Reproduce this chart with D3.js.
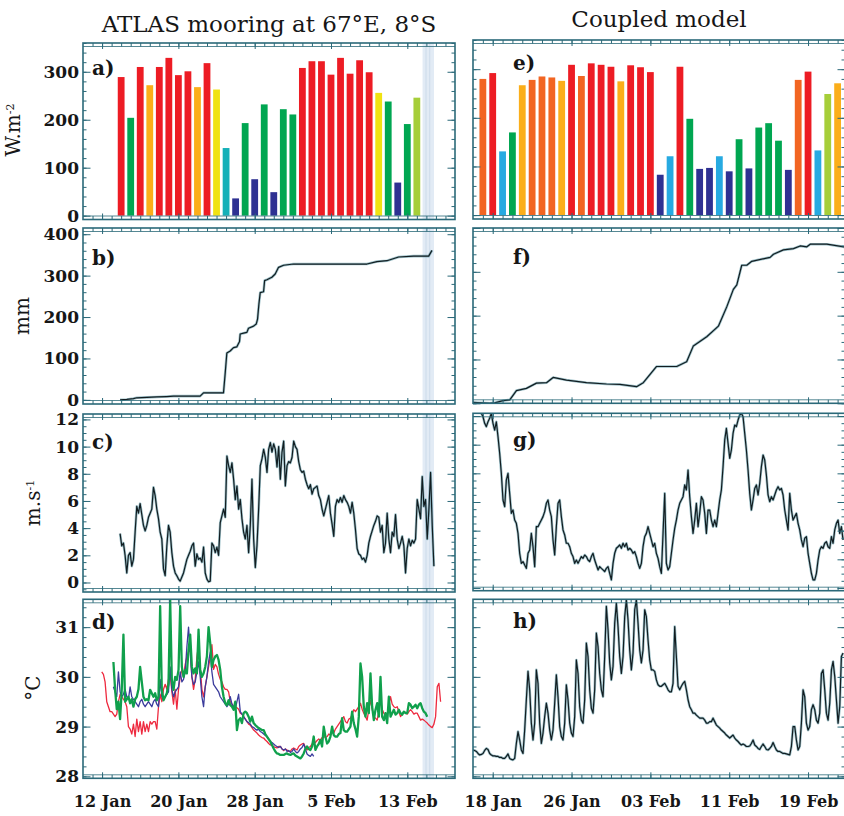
<!DOCTYPE html>
<html>
<head>
<meta charset="utf-8">
<script src="https://cdn.jsdelivr.net/npm/d3@7"></script>
<style>
  body { margin: 0; background: #fff; }
  svg text { font-family: "DejaVu Serif", serif; fill: #161616; }
</style>
</head>
<body>
<svg id="chart" width="844" height="816"></svg>
<script>
// days are counted from 1 Jan (1 = 1 Jan, 32 = 1 Feb)
const day = d => new Date(Date.UTC(2007, 0, 1) + (d - 1) * 864e5);

// ---- data ----
// daily net heat flux, W.m-2
const fluxObsStart = 14;   // 14 Jan
const fluxObs = [289, 204, 310, 272, 310, 329, 293, 301, 268, 318, 263, 141, 36, 193, 76, 232,
  49, 222, 211, 308, 322, 322, 294, 329, 296, 324, 299, 256, 238, 69, 191, 246];
const fluxModStart = 17;   // 17 Jan
const fluxMod = [280, 292, 131, 170, 267, 278, 285, 283, 276, 309, 286, 312, 309, 305, 275, 308,
  304, 294, 83, 121, 305, 198, 95, 97, 121, 90, 156, 96, 180, 189, 153, 93, 278, 295, 133, 249, 271];
const fluxBreaks = [100, 137, 150, 245, 255, 266, 277, 288];
const fluxColors = ["#2e3192", "#27aae1", "#14b0b8", "#00a651", "#a6ce39", "#f0e212", "#fbae1a", "#f26522", "#ed1c24"];

// cumulative rain, mm  [day, value]
const rainObs = [[13.89, 0], [14.59, 1], [15.29, 3], [15.64, 5], [16.69, 6], [17.74, 7], [18.79, 8],
  [19.49, 9], [22.28, 9], [22.63, 17], [24.73, 17], [24.91, 65], [25.08, 113], [25.43, 118],
  [25.78, 126], [26.13, 128], [26.41, 141], [26.48, 159], [26.83, 161], [27.18, 163], [27.35, 173],
  [27.88, 178], [28.16, 183], [28.30, 195], [28.44, 231], [28.58, 259], [28.93, 261], [29.04, 288],
  [29.28, 290], [29.80, 296], [30.15, 304], [30.50, 320], [31.03, 325], [32.08, 328], [39.77, 328],
  [40.82, 334], [41.87, 336], [43.09, 345], [44.67, 347], [46.24, 347], [46.59, 361]];
const rainMod = [[16.0, 2], [17.7, 0], [18.2, 1], [19.05, 6], [19.73, 8], [20.41, 29], [21.42, 34],
  [22.44, 46], [23.46, 47], [24.13, 59], [25.49, 53], [27.52, 47], [29.55, 44], [30.91, 43],
  [32.60, 38], [33.28, 47], [34.63, 84], [36.67, 84], [37.68, 95], [38.36, 131], [39.72, 152],
  [40.90, 176], [41.75, 220], [42.42, 260], [42.77, 270], [43.27, 315], [43.78, 315], [44.29, 324],
  [46.15, 333], [46.49, 340], [47.50, 350], [48.52, 353], [49.20, 359], [49.88, 357], [50.22, 363],
  [51.91, 363], [53.67, 357]];

// wind speed, m/s, regular samples
const obsStepHours = 4.2, modStepHours = 4.06;
const windObsStart = 13.889;
const windObs = [3.6, 2.7, 2.9, 2.0, 0.7, 2.0, 2.2, 1.2, 1.7, 3.7,
  5.6, 5.1, 5.8, 5.0, 4.2, 3.8, 4.2, 4.8, 5.1, 5.4,
  7.0, 6.4, 5.4, 4.7, 3.7, 3.2, 1.0, 0.5, 2.7, 4.2,
  3.7, 2.2, 1.2, 0.7, 0.5, 0.25, 0.1, 0.4, 0.7, 1.2,
  1.7, 2.0, 2.3, 2.7, 2.9, 1.2, 2.1, 1.7, 1.8, 1.5,
  2.6, 0.7, 0.25, 0.05, 0.1, 2.9, 2.7, 2.2, 2.6, 2.0,
  4.4, 4.9, 5.4, 4.8, 9.3, 8.6, 8.1, 8.8, 7.6, 6.1,
  7.1, 5.4, 6.1, 4.7, 3.7, 3.2, 4.2, 2.2, 4.2, 7.6,
  3.2, 1.1, 2.7, 5.4, 8.6, 9.1, 9.8, 9.2, 8.1, 9.8,
  10.3, 9.6, 10.2, 9.8, 8.5, 10.0, 7.6, 9.6, 10.4, 7.1,
  8.6, 8.9, 8.8, 9.2, 10.4, 10.0, 9.8, 8.9, 8.3, 8.1,
  8.2, 7.6, 7.2, 6.9, 7.2, 6.5, 6.9, 7.0, 7.1, 6.4,
  6.1, 5.4, 4.9, 5.4, 5.9, 6.4, 5.1, 4.3, 3.4, 5.6,
  6.1, 5.9, 6.25, 5.9, 6.4, 6.1, 5.9, 5.6, 5.1, 5.9,
  5.1, 3.9, 2.5, 2.1, 2.0, 1.7, 1.8, 1.5, 2.0, 2.9,
  3.4, 3.8, 4.2, 4.5, 4.9, 4.8, 3.7, 4.2, 2.2, 2.9,
  5.1, 3.2, 2.2, 3.7, 3.4, 5.0, 3.2, 2.5, 2.9, 3.4,
  2.7, 0.7, 2.5, 3.2, 2.7, 3.1, 2.9, 3.2, 6.1, 5.4,
  4.7, 7.8, 5.6, 6.1, 3.2, 5.4, 8.1, 4.2, 1.2];
const windModStart = 16.0;
const windMod = [12.42, 12.53, 12.65, 12.53, 12.3, 12.19, 11.95, 11.49, 11.26, 11.6,
  11.84, 12.19, 11.49, 11.02, 11.6, 10.56, 9.4, 8.0, 6.14, 5.67,
  7.53, 8.0, 6.6, 5.21, 5.44, 4.74, 4.51, 3.81, 2.42, 1.72,
  1.84, 1.6, 1.37, 2.42, 2.65, 3.81, 2.88, 1.49, 4.28, 4.28,
  4.51, 4.74, 4.98, 5.33, 5.91, 6.14, 5.44, 4.98, 3.35, 2.3,
  4.28, 5.91, 6.14, 4.98, 4.05, 3.7, 3.12, 3.12, 2.88, 2.42,
  2.19, 1.72, 1.95, 1.72, 1.95, 2.19, 2.07, 2.3, 2.19, 1.95,
  1.84, 2.19, 2.42, 1.95, 1.6, 1.26, 1.49, 1.37, 1.26, 1.14,
  1.37, 1.49, 1.02, 0.56, 1.72, 2.42, 2.77, 2.88, 3.0, 2.77,
  3.12, 2.88, 3.12, 2.65, 2.77, 2.65, 2.42, 2.53, 2.19, 1.72,
  1.37, 1.72, 2.88, 3.58, 3.81, 4.28, 3.81, 3.35, 2.88, 3.12,
  2.42, 2.07, 1.49, 1.02, 3.81, 6.6, 1.72, 1.26, 1.49, 2.42,
  3.35, 4.16, 4.74, 5.44, 5.91, 6.14, 6.37, 7.19, 6.84, 8.23,
  6.37, 4.98, 3.81, 4.74, 5.91, 4.28, 5.21, 6.37, 6.14, 5.21,
  3.81, 5.44, 5.44, 4.74, 4.28, 4.74, 4.28, 5.21, 6.14, 6.84,
  8.47, 10.33, 11.14, 10.09, 9.05, 9.63, 10.79, 11.37, 11.26, 11.72,
  12.07, 12.19, 11.95, 10.79, 9.63, 8.23, 6.6, 5.44, 6.14, 6.95,
  7.19, 6.49, 7.3, 8.47, 9.28, 8.93, 7.88, 6.49, 6.02, 6.37,
  6.14, 6.49, 6.84, 7.07, 6.84, 6.95, 6.49, 5.44, 4.74, 4.05,
  6.6, 5.44, 4.74, 4.98, 5.21, 4.51, 4.05, 3.35, 2.88, 3.47,
  3.58, 2.42, 1.72, 1.02, 0.56, 0.56, 1.02, 1.95, 2.65, 2.88,
  2.77, 3.12, 3.23, 2.88, 2.77, 3.58, 3.12, 4.05, 4.51, 4.74,
  3.81, 4.28, 3.35];

// sea surface temperature, degC
const sstRedStart = 11.965;
const sstRed = [30.1, 30.05, 29.9, 29.5, 29.4, 29.3, 29.3, 29.25, 29.2, 29.25,
  29.5, 29.65, 29.6, 29.55, 29.5, 29.4, 29.0, 28.95, 28.85, 29.05,
  28.8, 29.15, 28.9, 29.1, 28.85, 29.1, 28.9, 29.05, 28.9, 29.1,
  29.05, 29.1, 29.1, 28.95, 29.4, 29.65, 29.5, 29.75, 29.85, 29.75,
  29.95, 30.05, 29.7, 29.45, 29.75, 29.35, 29.75, 30.0, 30.15, 30.0,
  30.25, 30.4, 30.5, 30.55, 30.0, 29.75, 29.95, 30.4, 30.65, 30.2,
  29.75, 29.6, 29.8, 30.0, 30.2, 30.4, 30.65, 30.15, 30.25, 30.2,
  30.05, 29.95, 29.9, 29.8, 29.75, 29.75, 29.7, 29.5, 29.45, 29.4,
  29.4, 29.38, 29.35, 29.27, 29.25, 29.2, 29.15, 29.1, 29.05, 29.03,
  28.98, 28.93, 28.9, 28.87, 28.83, 28.8, 28.78, 28.77, 28.73, 28.7,
  28.66, 28.63, 28.62, 28.6, 28.58, 28.57, 28.6, 28.6, 28.55, 28.52,
  28.55, 28.53, 28.5, 28.5, 28.55, 28.57, 28.55, 28.53, 28.6, 28.63,
  28.65, 28.66, 28.58, 28.53, 28.58, 28.6, 28.65, 28.7, 28.68, 28.72,
  28.75, 28.73, 28.78, 28.8, 28.78, 28.8, 28.85, 28.83, 28.88, 28.87,
  28.95, 29.0, 29.05, 29.1, 29.15, 29.2, 29.1, 29.07, 29.15, 29.17,
  29.25, 29.34, 29.3, 29.35, 29.4, 29.47, 29.35, 29.27, 29.2, 29.13,
  29.35, 29.53, 29.35, 29.2, 29.17, 29.13, 29.3, 29.53, 29.35, 29.27,
  29.22, 29.2, 29.45, 29.6, 29.45, 29.4, 29.38, 29.4, 29.3, 29.2,
  29.25, 29.3, 29.28, 29.25, 29.3, 29.34, 29.3, 29.25, 29.27, 29.27,
  29.2, 29.13, 29.15, 29.13, 29.1, 29.07, 29.03, 29.0, 28.98, 29.05,
  29.2, 29.8, 29.87, 29.5];
const sstBlueStart = 13.189;
const sstBlue = [29.8, 29.7, 29.6, 30.1, 29.7, 29.6, 29.65, 29.75, 29.6, 29.55,
  29.8, 29.6, 29.55, 29.5, 29.45, 29.4, 29.5, 29.55, 29.45, 29.4,
  29.45, 29.5, 29.45, 29.4, 29.5, 29.55, 29.45, 29.4, 29.95, 29.6,
  29.55, 29.6, 29.65, 29.7, 30.2, 29.75, 29.6, 29.7, 29.75, 29.8,
  30.1, 29.9, 29.95, 30.1, 30.6, 31.0, 30.5, 30.0, 29.85, 29.9,
  30.1, 30.3, 30.0, 29.6, 29.4, 29.8, 30.0, 30.3, 30.5, 30.1,
  29.85, 29.8, 29.75, 29.7, 29.6, 29.55, 29.5, 29.45, 29.4, 29.45,
  29.6, 29.45, 29.4, 29.35, 29.5, 29.65, 29.3, 29.25, 29.2, 29.15,
  29.1, 29.08, 29.05, 29.0, 28.98, 28.95, 28.93, 28.95, 28.9, 28.88,
  28.85, 28.82, 28.8, 28.75, 28.7, 28.68, 28.65, 28.62, 28.6, 28.58,
  28.6, 28.55, 28.53, 28.55, 28.5, 28.52, 28.48, 28.5, 28.55, 28.5,
  28.47, 28.5, 28.55, 28.58, 28.65, 28.55, 28.45, 28.42, 28.4, 28.45,
  28.4];
const sstGreenStart = 13.189;
const sstGreen = [30.3, 29.75, 29.35, 29.5, 29.15, 29.75, 30.85, 29.5, 29.55, 29.6,
  29.47, 29.55, 29.4, 29.55, 29.6, 29.75, 30.2, 29.9, 29.6, 29.53,
  29.55, 29.53, 29.74, 29.67, 29.6, 29.67, 29.53, 29.6, 31.42, 29.74,
  29.53, 29.6, 29.67, 29.87, 31.55, 29.94, 29.74, 30.0, 29.94, 30.14,
  31.42, 30.2, 30.0, 30.14, 30.07, 30.54, 30.85, 30.2, 30.07, 30.17,
  30.07, 30.95, 30.14, 30.0, 30.07, 30.2, 30.41, 31.0, 30.68, 30.2,
  30.34, 30.41, 30.44, 30.34, 30.14, 29.8, 29.6, 29.47, 29.43, 29.53,
  29.43, 29.4, 29.34, 29.5, 28.93, 29.13, 29.17, 29.07, 29.27, 29.3,
  29.27, 29.2, 29.1, 29.2, 29.07, 29.03, 29.0, 28.97, 28.95, 28.93,
  28.93, 28.85, 28.8, 28.75, 28.7, 28.63, 28.56, 28.5, 28.46, 28.45,
  28.43, 28.43, 28.43, 28.45, 28.46, 28.44, 28.43, 28.45, 28.46, 28.42,
  28.4, 28.38, 28.36, 28.4, 28.46, 28.55, 28.6, 28.55, 28.53, 28.6,
  28.8, 28.53, 28.6, 28.65, 28.73, 28.6, 29.0, 28.8, 28.66, 28.7,
  28.8, 29.0, 28.83, 28.8, 28.8, 28.85, 28.87, 29.17, 28.93, 28.9,
  28.9, 28.95, 29.0, 29.3, 29.07, 28.95, 28.8, 29.2, 30.27, 30.0,
  29.4, 29.2, 29.47, 29.27, 30.07, 29.4, 29.13, 29.34, 29.47, 29.2,
  30.0, 29.2, 29.13, 29.27, 29.07, 29.6, 29.2, 29.27, 29.34, 29.24,
  29.27, 29.34, 29.27, 29.24, 29.3, 29.27, 29.27, 29.47, 29.44, 29.37,
  29.4, 29.44, 29.37, 29.44, 29.47, 29.37, 29.3, 29.27, 29.2];
const sstModStart = 16.0;
const sstMod = [28.53, 28.52, 28.5, 28.46, 28.43, 28.44, 28.46, 28.52, 28.56, 28.54,
  28.46, 28.43, 28.41, 28.41, 28.4, 28.4, 28.38, 28.38, 28.36, 28.36,
  28.4, 28.45, 28.36, 28.34, 28.33, 28.36, 28.66, 28.9, 28.73, 28.53,
  28.46, 28.93, 29.54, 30.11, 29.74, 29.07, 28.73, 29.07, 30.14, 29.87,
  29.07, 28.66, 28.87, 29.2, 29.47, 29.27, 28.93, 28.73, 28.93, 29.47,
  30.04, 29.6, 29.0, 28.8, 28.73, 29.07, 29.84, 29.54, 29.07, 28.87,
  28.8, 29.2, 30.34, 30.07, 29.4, 29.13, 29.07, 29.54, 30.68, 30.41,
  29.74, 29.37, 29.27, 29.74, 30.88, 30.61, 30.07, 29.74, 29.6, 30.41,
  31.42, 30.95, 30.28, 29.94, 30.21, 31.08, 31.48, 31.01, 30.41, 30.07,
  30.41, 31.21, 31.55, 31.15, 30.54, 30.14, 30.48, 31.35, 31.55, 31.08,
  30.54, 30.28, 30.54, 31.35, 31.21, 30.74, 30.34, 30.14, 30.14, 30.11,
  29.94, 29.84, 29.81, 29.81, 29.84, 29.87, 29.81, 29.74, 29.7, 29.7,
  29.87, 31.01, 30.41, 29.81, 29.74, 29.81, 29.87, 29.91, 29.74, 29.54,
  29.4, 29.34, 29.27, 29.27, 29.23, 29.2, 29.17, 29.17, 29.17, 29.13,
  29.07, 29.07, 29.1, 29.1, 29.17, 29.1, 29.03, 29.0, 28.97, 28.93,
  28.9, 28.87, 28.83, 28.8, 28.77, 28.8, 28.83, 28.77, 28.73, 28.7,
  28.66, 28.63, 28.65, 28.63, 28.6, 28.6, 28.61, 28.66, 28.73, 28.63,
  28.6, 28.56, 28.54, 28.6, 28.65, 28.6, 28.54, 28.53, 28.56, 28.6,
  28.68, 28.6, 28.53, 28.5, 28.5, 28.48, 28.46, 28.46, 28.45, 28.44,
  28.43, 28.6, 29.0, 29.0, 28.73, 28.53, 28.6, 29.07, 29.74, 29.6,
  29.07, 28.93, 29.0, 29.34, 29.44, 29.34, 29.13, 29.07, 29.27, 30.07,
  30.14, 29.74, 29.27, 29.13, 29.47, 30.14, 30.31, 30.01, 29.54, 29.07,
  29.4, 30.41, 30.48];

// shaded gap in the mooring record
const bandDays = [45.6, 46.8];

// axis ticks
const fluxTicks = [0, 100, 200, 300];
const rainTicks = [0, 100, 200, 300, 400];
const windTicks = [0, 2, 4, 6, 8, 10, 12];
const sstTicks = [28, 29, 30, 31];
const obsDateTicks = [12, 20, 28, 36, 44];   // 12 Jan ... 13 Feb
const modDateTicks = [18, 26, 34, 42, 50];   // 18 Jan ... 19 Feb

// ---- drawing ----
const series = (start, stepHours, values) => values.map((v, i) => [day(start + i * stepHours / 24), v]);
const pairs = list => list.map(([d, v]) => [day(d), v]);
const fluxColor = d3.scaleThreshold().domain(fluxBreaks).range(fluxColors);

const frameColor = "#2b6979";
const svg = d3.select("#chart");
const defs = svg.append("defs");

const xObs = d3.scaleUtc().domain([day(10), day(49)]).range([83, 455]);
const xMod = d3.scaleUtc().domain([day(16), day(53.75)]).range([473, 845]);

function bars(start, values) {
  return (g, x, y) => {
    g.selectAll("rect.bar").data(values).join("rect")
      .attr("class", "bar")
      .attr("x", (v, i) => x(day(start + i)) - 3.4)
      .attr("width", 6.8)
      .attr("y", v => y(v))
      .attr("height", v => y(0) - y(v))
      .attr("fill", v => fluxColor(v));
  };
}

function darkLine(data) {
  return (g, x, y) => {
    const line = d3.line().x(d => x(d[0])).y(d => y(d[1]));
    g.append("path").datum(data).attr("fill", "none").attr("stroke", "#4f8e9c")
      .attr("stroke-opacity", 0.55).attr("stroke-width", 2.6).attr("stroke-linejoin", "round").attr("d", line);
    g.append("path").datum(data).attr("fill", "none").attr("stroke", "#121d21")
      .attr("stroke-width", 1.2).attr("stroke-linejoin", "round").attr("d", line);
  };
}

function sstLines(g, x, y) {
  const line = d3.line().x(d => x(d[0])).y(d => y(d[1]));
  const lines = [
    [series(sstRedStart, obsStepHours, sstRed), "#ee2a3f", 1.3],
    [series(sstBlueStart, obsStepHours, sstBlue), "#3b3c9c", 1.3],
    [series(sstGreenStart, obsStepHours, sstGreen), "#10a04c", 2.3]
  ];
  lines.forEach(([data, color, w]) => {
    g.append("path").datum(data).attr("fill", "none").attr("stroke", color)
      .attr("stroke-width", w).attr("stroke-linejoin", "round").attr("d", line);
  });
}

const panels = [
  {id: "a", x: xObs, top: 43, bottom: 219.5, dom: [-8, 360], ticks: fluxTicks, minor: 20, labels: true,
    letter: [92, 75], draw: bars(fluxObsStart, fluxObs)},
  {id: "b", x: xObs, top: 228, bottom: 404, dom: [-10, 415], ticks: rainTicks, minor: 20, labels: true,
    letter: [92, 265], draw: darkLine(pairs(rainObs))},
  {id: "c", x: xObs, top: 414, bottom: 592, dom: [-0.7, 12.4], ticks: windTicks, minor: 0.5, labels: true,
    letter: [92, 449], draw: darkLine(series(windObsStart, obsStepHours, windObs))},
  {id: "d", x: xObs, top: 599.3, bottom: 778.3, dom: [27.96, 31.56], ticks: sstTicks, minor: 0.2, labels: true,
    letter: [92, 629], draw: sstLines, dates: obsDateTicks, fmt: d3.utcFormat("%-d %b")},
  {id: "e", x: xMod, top: 40, bottom: 219, dom: [-8, 360], ticks: fluxTicks, minor: 20,
    letter: [513, 70], draw: bars(fluxModStart, fluxMod)},
  {id: "f", x: xMod, top: 228, bottom: 403.3, dom: [0, 400], ticks: rainTicks, minor: 20,
    letter: [513, 264], draw: darkLine(pairs(rainMod))},
  {id: "g", x: xMod, top: 413.3, bottom: 590.7, dom: [-0.19, 12.19], ticks: windTicks, minor: 0.5,
    letter: [513, 447], draw: darkLine(series(windModStart, modStepHours, windMod))},
  {id: "h", x: xMod, top: 599.3, bottom: 778.3, dom: [27.96, 31.56], ticks: sstTicks, minor: 0.2,
    letter: [513, 628], draw: darkLine(series(sstModStart, modStepHours, sstMod)),
    dates: modDateTicks, fmt: d3.utcFormat("%d %b")}
];

const noDomain = a => a.select(".domain").remove();

panels.forEach(p => {
  const [l, r] = p.x.range();
  const y = d3.scaleLinear().domain(p.dom).range([p.bottom, p.top]);

  defs.append("clipPath").attr("id", "clip-" + p.id).append("rect")
    .attr("x", l).attr("y", p.top).attr("width", r - l).attr("height", p.bottom - p.top);
  const plot = svg.append("g").attr("clip-path", `url(#clip-${p.id})`);

  if (p.x === xObs) {
    const b0 = p.x(day(bandDays[0])), b1 = p.x(day(bandDays[1]));
    plot.append("rect").attr("x", b0).attr("y", p.top).attr("width", b1 - b0)
      .attr("height", p.bottom - p.top).attr("fill", "#e2ebf5");
    [0.3, 0.62].forEach(f => plot.append("line")
      .attr("x1", b0 + f * (b1 - b0)).attr("x2", b0 + f * (b1 - b0))
      .attr("y1", p.top).attr("y2", p.bottom).attr("stroke", "#d0deec").attr("stroke-width", 1.2));
  }
  p.draw(plot, p.x, y);

  const ax = svg.append("g").attr("color", frameColor);
  const [d0, d1] = p.x.domain();
  const days = d3.utcDay.range(d0, d1).slice(1);
  const dateMajors = (p.x === xObs ? obsDateTicks : modDateTicks).map(day);
  const minors = d3.range(Math.ceil(p.dom[0] / p.minor - 1e-9), Math.floor(p.dom[1] / p.minor + 1e-9) + 1)
    .map(k => +(k * p.minor).toFixed(3));
  const blank = () => "";

  // time ticks, pointing into the panel
  ax.append("g").attr("transform", `translate(0,${p.bottom})`)
    .call(d3.axisTop(p.x).tickValues(days).tickSize(3.5).tickFormat(blank)).call(noDomain);
  ax.append("g").attr("transform", `translate(0,${p.top})`)
    .call(d3.axisBottom(p.x).tickValues(days).tickSize(3.5).tickFormat(blank)).call(noDomain);
  ax.append("g").attr("transform", `translate(0,${p.bottom})`)
    .call(d3.axisTop(p.x).tickValues(dateMajors).tickSize(6).tickFormat(blank)).call(noDomain);
  ax.append("g").attr("transform", `translate(0,${p.top})`)
    .call(d3.axisBottom(p.x).tickValues(dateMajors).tickSize(6).tickFormat(blank)).call(noDomain);

  // value ticks on both sides
  ax.append("g").attr("transform", `translate(${l},0)`)
    .call(d3.axisRight(y).tickValues(minors).tickSize(3.5).tickFormat(blank)).call(noDomain);
  ax.append("g").attr("transform", `translate(${l},0)`)
    .call(d3.axisRight(y).tickValues(p.ticks).tickSize(7.5).tickFormat(blank)).call(noDomain);
  ax.append("g").attr("transform", `translate(${r},0)`)
    .call(d3.axisLeft(y).tickValues(minors).tickSize(3.5).tickFormat(blank)).call(noDomain);
  ax.append("g").attr("transform", `translate(${r},0)`)
    .call(d3.axisLeft(y).tickValues(p.ticks).tickSize(7.5).tickFormat(blank)).call(noDomain);

  if (p.labels) {
    ax.append("g").attr("transform", `translate(${l},0)`)
      .call(d3.axisLeft(y).tickValues(p.ticks).tickSize(0).tickPadding(4).tickFormat(d3.format("d")))
      .call(noDomain)
      .selectAll("text").style("font-size", "17px").style("font-weight", "bold");
  }
  if (p.dates) {
    ax.append("g").attr("transform", `translate(0,${p.bottom})`)
      .call(d3.axisBottom(p.x).tickValues(p.dates.map(day)).tickSize(0).tickPadding(17).tickFormat(p.fmt))
      .call(noDomain)
      .selectAll("text").style("font-size", "16px").style("font-weight", "bold");
  }

  // double edge on top and bottom, then the frame
  [p.top + 3.5, p.bottom - 3.5].forEach(yy => ax.append("line")
    .attr("x1", l).attr("x2", r).attr("y1", yy).attr("y2", yy)
    .attr("stroke", frameColor).attr("stroke-width", 0.8));
  ax.append("rect").attr("x", l).attr("y", p.top).attr("width", r - l).attr("height", p.bottom - p.top)
    .attr("fill", "none").attr("stroke", frameColor).attr("stroke-width", 1.6);

  svg.append("text").attr("x", p.letter[0]).attr("y", p.letter[1])
    .style("font-size", "20px").style("font-weight", "bold").text(p.id + ")");
});

// column titles
svg.append("text").attr("x", 269).attr("y", 32).attr("text-anchor", "middle")
  .style("font-size", "23px").text("ATLAS mooring at 67°E, 8°S");
svg.append("text").attr("x", 659).attr("y", 27).attr("text-anchor", "middle")
  .style("font-size", "23px").text("Coupled model");

// unit labels
const units = [
  {x: 13, y: 130, text: "W.m", sup: "-2"},
  {x: 22, y: 316, text: "mm"},
  {x: 33, y: 503, text: "m.s", sup: "-1"},
  {x: 33, y: 688, text: "°C"}
];
units.forEach(u => {
  const t = svg.append("text").attr("transform", `translate(${u.x},${u.y}) rotate(-90)`)
    .attr("text-anchor", "middle").attr("dy", "0.35em").style("font-size", "20px").text(u.text);
  if (u.sup) t.append("tspan").attr("dy", "-0.55em").style("font-size", "11px").text(u.sup);
});
</script>
</body>
</html>
